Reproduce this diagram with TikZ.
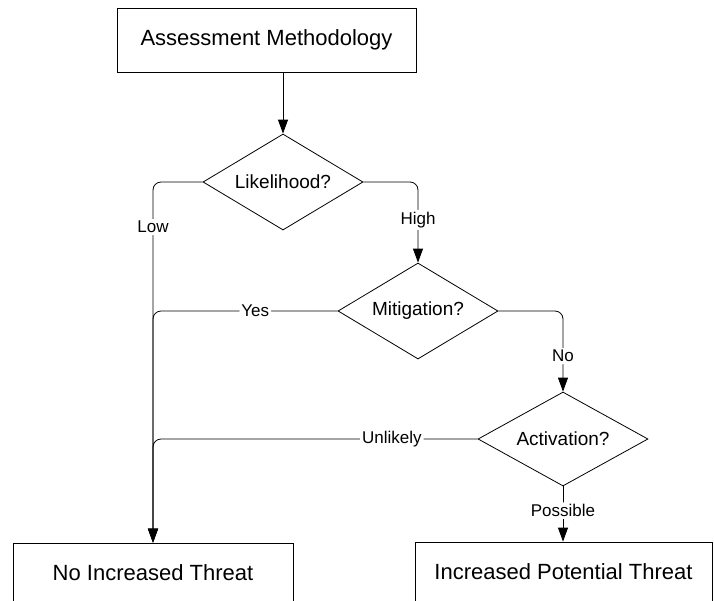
\documentclass[tikz,border=0pt]{standalone}
\usepackage{fontspec}
\setmainfont{Liberation Sans}
\usepackage{tikz}
\usetikzlibrary{shapes.geometric,arrows.meta}
\newcommand{\flowUnit}[0]{0.5pt}
\newcommand{\cornerRadius}[0]{4pt}
\newcommand{\answerSize}[0]{\fontsize{8.5}{10}\selectfont}

\begin{document}
\begin{tikzpicture}[x=\flowUnit, y=-\flowUnit]
  \tikzset{outcome/.style={draw, rectangle, inner sep=0pt, minimum height=30pt, font=\fontsize{11}{13}\selectfont},
    question/.style={draw, diamond, aspect=1.67, inner sep=0pt, minimum width=80pt, minimum height=48pt, font=\fontsize{9.5}{11}\selectfont},
    flow/.style={rounded corners=\cornerRadius, -{Triangle[width=5pt,length=7pt]}},
    answer/.style={fill=white, inner sep=1pt, font=\answerSize}}
  \useasboundingbox (0,0) rectangle (714,601);
  \node[outcome, minimum width=149.5pt, minimum height=32pt](Method) at (266.5,40) {Assessment Methodology};
  \node[question](Likely) at (283,182) {Likelihood?};
  \node[question](Mitigate) at (418,311) {Mitigation?};
  \node[question, minimum width=85pt, minimum height=47pt](Active) at (563,439) {Activation?};
  \node[outcome, minimum width=140pt](NoThreat) at (153,573) {No Increased Threat};
  \node[outcome, minimum width=148.5pt](Threat) at (563.5,572) {Increased Potential Threat};
  \draw[flow] (Method.south -| Likely.north) -- (Likely.north);
  \draw[flow] (Likely.west) -| node[answer, pos=0.5625]{Low} (NoThreat.north);
  \draw[flow] (Likely.east) -| node[answer, pos=0.735]{High} (Mitigate.north);
  \draw[flow] (Mitigate.west) -| node[answer, pos=0.223]{Yes} (NoThreat.north);
  \draw[flow] (Mitigate.east) -| node[answer, pos=0.78]{No} (Active.north);
  \draw[flow] (Active.west) -| node[answer, pos=0.132]{Unlikely} (NoThreat.north);
  \draw[flow] (Active.south) -- node[answer, pos=0.44]{Possible} (Active.south |- Threat.north);
\end{tikzpicture}
\end{document}
